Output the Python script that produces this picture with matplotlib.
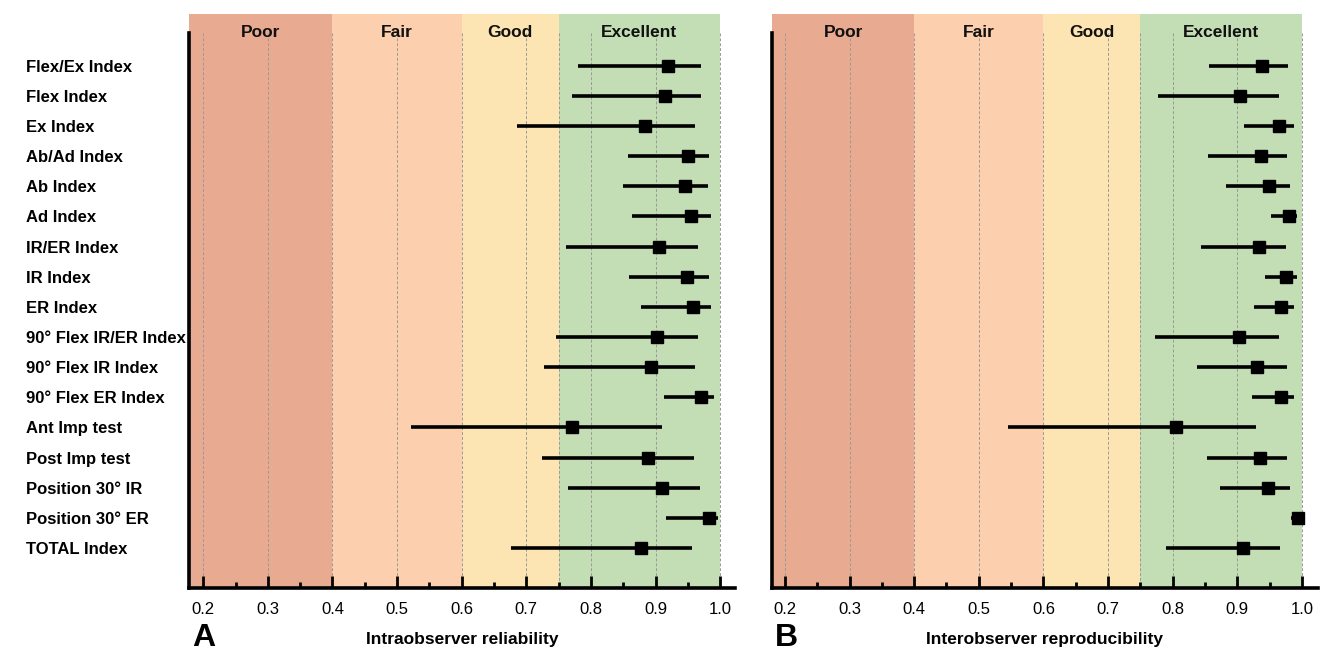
import matplotlib
matplotlib.use("Agg")
import matplotlib.pyplot as plt
import numpy as np

plt.rcParams['font.family'] = ['Liberation Sans', 'DejaVu Sans']

labels = ["Flex/Ex Index", "Flex Index", "Ex Index", "Ab/Ad Index", "Ab Index",
          "Ad Index", "IR/ER Index", "IR Index", "ER Index", "90° Flex IR/ER Index",
          "90° Flex IR Index", "90° Flex ER Index", "Ant Imp test", "Post Imp test",
          "Position 30° IR", "Position 30° ER", "TOTAL Index"]

intra_est = [0.919, 0.915, 0.884, 0.951, 0.946, 0.955, 0.906, 0.949, 0.958, 0.902,
             0.893, 0.970, 0.771, 0.889, 0.910, 0.983, 0.878]
intra_lo = [0.780, 0.770, 0.685, 0.858, 0.849, 0.864, 0.761, 0.859, 0.878, 0.746,
            0.727, 0.913, 0.522, 0.725, 0.765, 0.916, 0.676]
intra_hi = [0.971, 0.970, 0.961, 0.982, 0.981, 0.986, 0.966, 0.982, 0.986, 0.965,
            0.961, 0.990, 0.910, 0.960, 0.969, 0.996, 0.957]

inter_est = [0.938, 0.905, 0.964, 0.937, 0.949, 0.980, 0.934, 0.976, 0.968, 0.902,
             0.931, 0.967, 0.805, 0.936, 0.947, 0.994, 0.909]
inter_lo = [0.856, 0.778, 0.911, 0.854, 0.883, 0.953, 0.844, 0.943, 0.926, 0.773,
            0.837, 0.923, 0.545, 0.853, 0.874, 0.983, 0.789]
inter_hi = [0.978, 0.965, 0.988, 0.977, 0.982, 0.992, 0.975, 0.992, 0.988, 0.964,
            0.977, 0.988, 0.929, 0.977, 0.981, 0.998, 0.966]

bands = ["Poor", "Fair", "Good", "Excellent"]
band_edges = [0.4, 0.6, 0.75, 1.0]
band_colors = ["#E8AB91", "#FCD0AE", "#FDE5B3", "#C3DEB4"]
xticks = [0.2, 0.3, 0.4, 0.5, 0.6, 0.7, 0.8, 0.9, 1.0]

fig = plt.figure(figsize=(13.26, 6.51), dpi=100)
W, H = 1326, 651

panels = [
    dict(est=intra_est, lo=intra_lo, hi=intra_hi, left=189, right=735,
         xlim=(0.178, 1.023), letter="A", xlabel="Intraobserver reliability",
         show_labels=True),
    dict(est=inter_est, lo=inter_lo, hi=inter_hi, left=772, right=1318,
         xlim=(0.180, 1.025), letter="B", xlabel="Interobserver reproducibility",
         show_labels=False),
]

top_px, bot_px = 14, 588
n = len(labels)
y = np.arange(n)
ylim = (n - 1 + 1.33, -1.72)
spine_top = -1.1

for p in panels:
    ax = fig.add_axes([p['left'] / W, 1 - bot_px / H, (p['right'] - p['left']) / W,
                       (bot_px - top_px) / H])
    ax.set_xlim(*p['xlim'])
    ax.set_ylim(*ylim)
    start = p['xlim'][0]
    for name, edge, col in zip(bands, band_edges, band_colors):
        ax.axvspan(start, edge, color=col, lw=0, zorder=0)
        ax.text((start + edge) / 2, -1.12, name, ha='center', va='center', fontsize=12.5,
                fontweight='bold', color='#111111', zorder=3)
        start = edge
    ax.vlines(xticks + [0.75], spine_top, ylim[0], colors='#9a9a9a', linestyles=(0, (3, 2)),
              linewidth=0.7, zorder=1)
    lo = np.array(p['est']) - np.array(p['lo'])
    hi = np.array(p['hi']) - np.array(p['est'])
    ax.errorbar(p['est'], y, xerr=[lo, hi], fmt='s', color='black', ms=8.8,
                elinewidth=2.6, capsize=0, zorder=4)
    for s in ['top', 'right']:
        ax.spines[s].set_visible(False)
    ax.spines['left'].set_linewidth(2.6)
    ax.spines['bottom'].set_linewidth(2.6)
    ax.spines['left'].set_bounds(ylim[0], spine_top)
    ax.set_xticks(xticks)
    ax.set_xticklabels([f"{t:.1f}" for t in xticks])
    ax.set_xticks(np.arange(0.25, 1.0, 0.1), minor=True)
    ax.tick_params(axis='x', which='major', direction='in', length=9, width=2,
                   labelsize=12, pad=10)
    ax.tick_params(axis='x', which='minor', direction='in', length=4.5, width=2)
    ax.set_yticks(y)
    if p['show_labels']:
        ax.set_yticklabels(labels, ha='left', fontsize=12, fontweight='bold')
        ax.tick_params(axis='y', length=0, pad=(p['left'] - 26) * 0.72)
    else:
        ax.set_yticklabels([])
        ax.tick_params(axis='y', length=0)
    ax.set_xlabel(p['xlabel'], fontsize=12.5, fontweight='bold', labelpad=11)
    ax.text((p['left'] + 3) / W, 1 - 638 / H, p['letter'], transform=fig.transFigure,
            ha='left', va='center', fontsize=23, fontweight='bold')

fig.savefig("out.png", dpi=100)
